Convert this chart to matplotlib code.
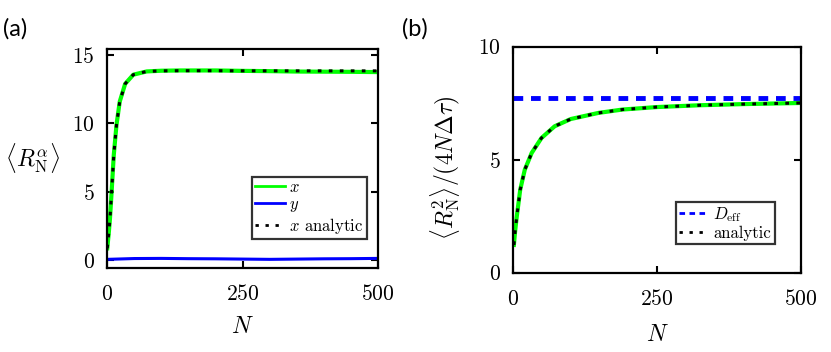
import numpy as np
import matplotlib
matplotlib.use('Agg')
from matplotlib import pyplot as plt

plt.rcParams['font.family'] = 'serif'
plt.rcParams['font.serif'] = ['cmr10']
plt.rcParams['mathtext.fontset'] = 'cm'
plt.rcParams['axes.formatter.use_mathtext'] = True

# panel (a): mean end-to-end components vs N
N_a = [0, 3, 5, 8, 12, 17, 23, 33, 48, 73, 100, 134, 200, 250, 300, 350, 400, 450, 500]
x_sim = [0.87, 2.1, 3.06, 5.0, 7.7, 9.9, 11.6, 12.9, 13.57, 13.81, 13.86, 13.88, 13.88,
         13.85, 13.83, 13.80, 13.79, 13.78, 13.76]
x_analytic = [0.87, 2.1, 3.06, 5.0, 7.7, 9.9, 11.6, 12.9, 13.57, 13.81, 13.85, 13.86, 13.86,
              13.85, 13.85, 13.85, 13.85, 13.85, 13.85]
N_y = [0, 50, 100, 150, 200, 250, 300, 350, 400, 450, 500]
y_sim = [0.06, 0.12, 0.13, 0.11, 0.1, 0.08, 0.06, 0.08, 0.1, 0.11, 0.13]

# panel (b): normalised mean-square displacement vs N
N_b = [1, 3, 6, 12, 20, 32, 49, 72, 100, 148, 190, 250, 325, 400, 500]
msd = [1.23, 1.8, 2.48, 3.67, 4.56, 5.3, 5.96, 6.48, 6.8, 7.07, 7.22, 7.33, 7.41, 7.46, 7.51]
D_eff = 7.71

green = '#00ff00'
dots = (0, (1.2, 2.4))

fig = plt.figure(figsize=(8.31, 3.52), dpi=100)
ax1 = fig.add_axes([0.1291, 0.2395, 0.3258, 0.6213])
ax2 = fig.add_axes([0.6177, 0.2253, 0.3458, 0.6420])


def style_axes(ax):
    for sp in ax.spines.values():
        sp.set_linewidth(1.6)
    ax.tick_params(direction='in', length=5, width=1.5, top=True, right=True,
                   labelsize=15.5)
    ax.tick_params(axis='x', pad=12)
    ax.tick_params(axis='y', pad=9)


def make_legend(ax, anchor):
    leg = ax.legend(loc='lower left', bbox_to_anchor=anchor, borderaxespad=0,
                    fontsize=12, frameon=True, fancybox=False, edgecolor='k',
                    handlelength=1.8, handletextpad=0.25, labelspacing=0.1,
                    borderpad=0.2)
    leg.get_frame().set_linewidth(1.6)
    for ln in leg.get_lines():
        ln.set_linewidth(2.0)
    return leg


ax1.plot(N_a, x_sim, color=green, lw=3, label='$x$')
ax1.plot(N_y, y_sim, color='#0000ff', lw=2.2, label='$y$')
ax1.plot(N_a, x_analytic, color='k', lw=2.2, ls=dots, label='$x$ analytic')
ax1.set_xlim(0, 500)
ax1.set_ylim(-0.55, 15.45)
ax1.set_xticks([0, 250, 500])
ax1.set_yticks([0, 5, 10, 15])
style_axes(ax1)
ax1.set_xlabel('$N$', fontsize=17)
ax1.xaxis.set_label_coords(0.5, -0.22)
ax1.set_ylabel(r'$\langle R_{\rm N}^{\alpha}\rangle$', fontsize=17, rotation=0,
               va='center', ha='center')
ax1.yaxis.set_label_coords(-0.278, 0.5)
make_legend(ax1, (0.533, 0.13))

ax2.axhline(D_eff, color='#0000ff', lw=3.5, ls=(0, (2.0, 1.6)), label=r'$D_{\rm eff}$')
ax2.plot(N_b, msd, color=green, lw=3)
ax2.plot(N_b, msd, color='k', lw=2.2, ls=dots, label='analytic')
ax2.set_xlim(0, 500)
ax2.set_ylim(0, 10)
ax2.set_xticks([0, 250, 500])
ax2.set_yticks([0, 5, 10])
style_axes(ax2)
ax2.set_xlabel('$N$', fontsize=17)
ax2.xaxis.set_label_coords(0.5, -0.225)
ax2.set_ylabel(r'$\langle R_{\rm N}^{2}\rangle/(4N\Delta\tau)$', fontsize=17,
               va='center', ha='center')
ax2.yaxis.set_label_coords(-0.238, 0.465)
make_legend(ax2, (0.566, 0.127))

fig.text(0.004, 0.95, '(a)', fontsize=17, family='Lato', va='top')
fig.text(0.484, 0.95, '(b)', fontsize=17, family='Lato', va='top')

fig.savefig('out.png', dpi=100)
